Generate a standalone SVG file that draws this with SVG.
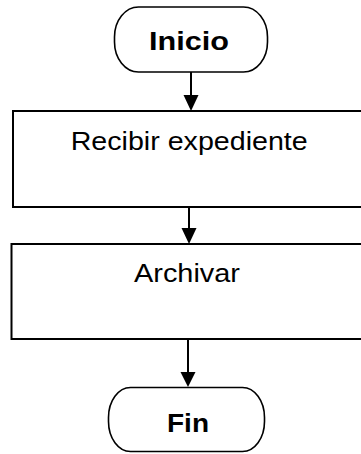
<svg xmlns="http://www.w3.org/2000/svg" width="361" height="454" viewBox="0 0 361 454">
<style>
.box{fill:#fff;stroke:#000;stroke-width:2}
.term{fill:#fff;stroke:#000;stroke-width:1.6}
.t{font-family:"Liberation Sans",Arial,sans-serif;font-size:26px;fill:#000;text-anchor:middle}
.b{font-weight:bold}
.edge{stroke:#000;stroke-width:2;fill:none}
.head{fill:#000}
</style>
<rect width="361" height="454" fill="#fff"/>
<g id="connectors">
<line class="edge" x1="191" y1="72" x2="191" y2="97"/>
<polygon class="head" points="183.5,95 198.5,95 191,111"/>
<line class="edge" x1="189" y1="207" x2="189" y2="230"/>
<polygon class="head" points="181.5,228 196.5,228 189,244"/>
<line class="edge" x1="188" y1="339" x2="188" y2="374"/>
<polygon class="head" points="180.5,372 195.5,372 188,387"/>
</g>
<g id="inicio">
<rect class="term" x="114.5" y="7" width="153" height="65" rx="24" ry="30"/>
<text class="t b" x="189" y="50" textLength="80" lengthAdjust="spacingAndGlyphs">Inicio</text>
</g>
<g id="recibir">
<rect class="box" x="13" y="111" width="352" height="96"/>
<text class="t" x="189.2" y="150" textLength="237" lengthAdjust="spacingAndGlyphs">Recibir expediente</text>
</g>
<g id="archivar">
<rect class="box" x="11.5" y="244" width="354" height="95"/>
<text class="t" x="187" y="281.5" textLength="106" lengthAdjust="spacingAndGlyphs">Archivar</text>
</g>
<g id="fin">
<rect class="term" x="108.5" y="387.5" width="156" height="64" rx="22" ry="30"/>
<text class="t b" x="188" y="431.5" textLength="42" lengthAdjust="spacingAndGlyphs">Fin</text>
</g>
</svg>
